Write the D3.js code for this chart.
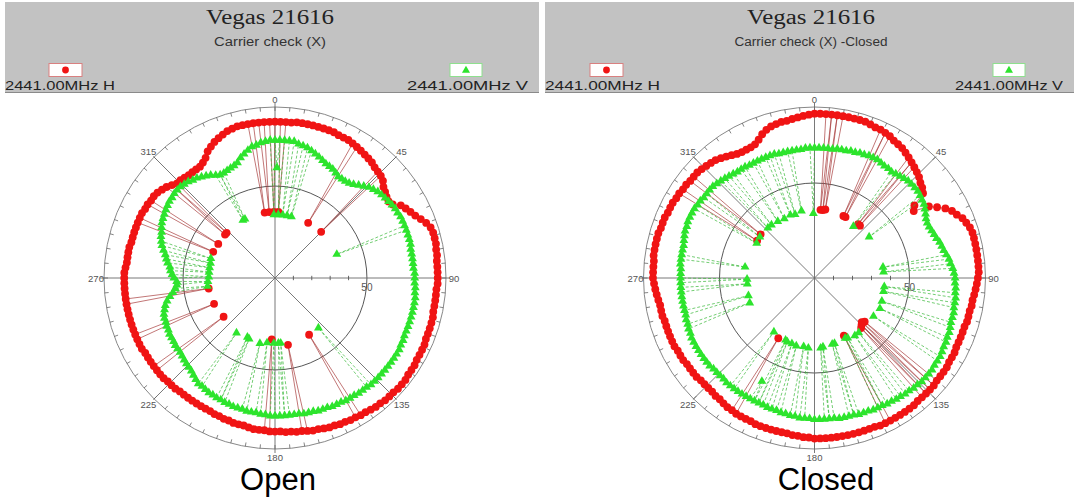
<!DOCTYPE html>
<html><head><meta charset="utf-8">
<script src="https://cdn.jsdelivr.net/npm/d3@7"></script>
<style>body{margin:0;background:#fff}svg{display:block}</style>
</head><body><svg id="c" width="1074" height="501"></svg>
<script>
// ---------- data ----------
const angles = d3.range(0, 360, 2); // sample angles (deg), one per ring value
const angleLabels = ["0","45","90","135","180","225","270","315"];
const angleLabelDeg = [0,45,90,135,180,225,270,315];
const ringValue = 50;
const axisTicks = [10,20,30,40];
const titles = ["Vegas 21616","Vegas 21616"];
const subtitles = ["Carrier check (X)","Carrier check (X) -Closed"];
const seriesNames = ["2441.00MHz H","2441.00MHz V"];
const captions = ["Open","Closed"];

// Open, horizontal (red)
const redOpen = [85,85,85,85,85.5,85.5,85.5,85.5,85.5,85.5,85.5,85.5,85,85,85,84.5,84,83.5,83,82.5,
82,81,80.5,80,79,77,76,75,74.5,75.5,79,80.5,82,83.5,85.5,87.5,89,89.5,89.5,89.5,
89,89,88.5,88.5,88.5,88.5,88.5,88,88,88,88,88,88.5,88.5,88.5,88.5,88.5,89,89,89,
89,89.5,89.5,89.5,90,90,90,89.5,89.5,89.5,89,89,88.5,88,88,87.5,87.5,87,87,86.5,
86.5,86,85.5,85.5,85,84.5,84.5,84,84,83.5,83.5,83.5,83,83,83,82.5,82,82,82,81.5,
81.5,81,81,80.5,80.5,80.5,80.5,80.5,80.5,80.5,80.5,81,81,81,81.5,81.5,81.5,81.5,81.5,81.5,
81.5,82,82,82,82,82,82,82,82,82,82,82,82,82,82,82,82,81.5,81,81,
81,81,80.5,80.5,80.5,80.5,80.5,80.5,80.5,80,80,79.5,79.5,79,78,77,75.5,74,74,73.5,
73,73,73,73,74,75.5,78,79.5,81,82,83,84,84.5,85,85,85,85,85,85,85];
const redOpenDips = [[3,36],[351,36],[355,36],[359,36],[31,35],[45,35.5],[149,36],[169,37],[183,33.5],
[233,35],[247,36],[261,36.5],[293,36.5],[301,36],[311,36],[313,36]];

// Open, vertical (green)
const greenOpen = [75,75,75,75,75,74,73.5,73,72,71,70,69,68,67.5,67,66,65,65,65,65.5,
66.5,68,69.5,71,72,73,73.5,74,74.5,75,75.5,75.5,76,76,76,76,76,76,76,75.5,
75.5,75.5,75.5,75.5,76,76,76,76.5,76.5,77,77,77,77,77,77,77,77,77,77.5,77.5,
78,78,78,78,78,78,78,78,78,78,77.5,77.5,77.5,77,77,77,76.5,76.5,76.5,76,
76,76,75.5,75.5,75.5,75,75,75,75,75,75,75,74.5,74.5,74,74,74,73.5,73.5,73.5,
73,73,72.5,72.5,72,72,71.5,71,71,70,69,68,67.5,67,66.5,66,65.5,65.5,65.5,65,
65,65,64.5,64.5,64,64,63.5,62.5,61.5,60,58,56,54.5,53.5,53.5,55,56,57,57.5,59,
60,61,62.5,64,65,66,66.5,67.5,68.5,69,69.5,70,70.5,71,71,71.5,71.5,71.5,71,70.5,
69.5,69,68,67,66,64.5,63.5,63.5,64,64.5,65,66,68,69.5,71,72.5,73,74,74.5,75];
const greenOpenDips = [[1,60],[3,34.5],[7,34.5],[11,34.5],[15,34.5],[359,34.5],[69,36],[139,36],
[175,35.5],[177,35.5],[181,35.5],[187,35.5],[193,36.5],[203,36],[205,35.5],[215,36.5],
[263,37],[267,36.5],[271,36],[275,36],[279,36],[283,36],[287,36.5],[331,36],[333,36]];

// Closed, horizontal (red)
const redClosed = [86.5,86.5,86.5,86.5,86.5,86.5,86.5,86.5,86.5,86.5,86,85.5,85.5,85,84.5,83.5,83,82.5,81.5,80.5,
79.5,78.5,77.5,76.5,75,74,72.5,65,63,71,74.5,78,80.5,82,84,85,86,86.5,86.5,86.5,
86.5,86.5,86.5,86.5,86.5,86,85.5,85,84.5,84,84,83.5,83.5,83.5,83,83,83,83,83,83.5,
83.5,83.5,84,84,84,84,84.5,84.5,84.5,84.5,84.5,85,85,85,85,85,85,85,85,84.5,
84.5,84.5,84.5,84.5,84.5,84.5,84.5,84.5,84.5,84.5,84.5,84,84,83.5,83.5,83,83,83,83,83,
83,83,82.5,82.5,82.5,82.5,82,82,81.5,81,81,80.5,80.5,80.5,80.5,81,81,81,81,81.5,
81.5,81.5,82,82,82,82,82,82,82.5,82.5,82.5,83,83.5,84,84.5,85,85,85,85,85.5,
85.5,85.5,85.5,85.5,85,85,85,84.5,84.5,84.5,84,84,83.5,83.5,83,83,83,82.5,82,81.5,
81,80,79,78,77,76.5,76.5,76.5,77,78.5,80.5,82,83,83.5,84,84,84.5,85,85.5,86];
const redClosedDips = [[5,36],[7,36],[9,36.5],[25,36],[27,36],[39,36.5],[41,36.5],[131,35],[133,34],
[135,35],[137,36],[153,34],[211,37],[303,36],[309,36.5]];

// Closed, vertical (green)
const greenClosed = [68.5,68.5,68.5,68.5,68.5,69,69,69,69.5,69.5,70,70,70.5,70.5,70.5,70,69.5,69.5,69,69.5,
70,70.5,71,71,71,71,70.5,70,69.5,68.5,67.5,66.5,66,66,66.5,67,67.5,68.5,69,69.5,
70.5,71.5,72,73,73.5,74,74,74.5,74.5,75,75,75,75.5,75.5,75.5,76,76.5,76.5,77,77,
77.5,78,78,78,78.5,78.5,78.5,78.5,78,78,77.5,77.5,77,77,76.5,76.5,76,76,76,75.5,
75.5,75.5,75,75,75,75,74.5,74.5,74.5,74.5,74.5,74,74,74,73.5,73.5,73,73,72.5,72.5,
72.5,72,72,72,72,72,72,72,72,72,72,71.5,71.5,71.5,71.5,72,72,72,72,72,
72,72,72,71.5,71.5,71,71,70.5,70.5,70.5,70.5,70.5,70.5,70.5,70.5,70.5,70.5,70.5,71,71,
71,71,71,71.5,72,72.5,72.5,73,73,73,73,72.5,72.5,72,72,72,72,71.5,71,70.5,
70,69.5,69,69,69,68.5,68.5,68.5,68.5,68.5,68.5,68.5,68,68,68,68,68,68,68.5,68.5];
const greenClosedDips = [[37,34],[53,36],[81,36.5],[85,36.5],[97,37],[101,37],[109,37.5],[115,38],[123,37],
[141,37],[145,37],[151,36],[153,35.5],[163,36],[165,36],[173,36.5],[175,37],[185,37],[189,36.5],
[195,37],[199,36.5],[203,36.5],[205,36],[207,61],[217,35.5],[249,36.5],[255,36],[265,35.5],
[269,35.5],[279,37],[301,35.5],[307,36],[317,36],[321,36],[327,35.5],[333,35],[339,35.5],
[343,35],[349,36],[359,34]];

// ---------- layout ----------
const RED = "#f01414", GREEN = "#2de42d";
const panels = [
  {cx:275, cy:278, R:171, rMax:93, gx0:5, gx1:539, titleX:270, titleW:128, subW:112,
   hX:5, hW:110, vX1:528, vW:121, redBoxX:49, greenBoxX:450, capX:278,
   red:redOpen, redD:redOpenDips, green:greenOpen, greenD:greenOpenDips},
  {cx:814.5, cy:278, R:171, rMax:90, gx0:545, gx1:1074, titleX:811, titleW:128, subW:153,
   hX:545, hW:115, vX1:1063, vW:108, redBoxX:590, greenBoxX:993, capX:826,
   red:redClosed, redD:redClosedDips, green:greenClosed, greenD:greenClosedDips}
];

const svg = d3.select("#c");
const rad = d => d * Math.PI / 180;

function merge(ring, dips) {
  return angles.map((a, i) => ({a, v: ring[i]}))
    .concat(dips.map(([a, v]) => ({a, v})))
    .sort((p, q) => p.a - q.a);
}

panels.forEach((p, k) => {
  // header
  const h = svg.append("g");
  h.append("rect").attr("x", p.gx0).attr("y", 2).attr("width", p.gx1 - p.gx0).attr("height", 90.5)
    .attr("fill", "#c2c2c2");
  h.append("line").attr("x1", p.gx0).attr("x2", p.gx1).attr("y1", 92.5).attr("y2", 92.5)
    .attr("stroke", "#8a8a8a").attr("stroke-width", 1);
  h.append("text").attr("x", p.titleX).attr("y", 24).attr("text-anchor", "middle")
    .attr("font-family", "Liberation Serif, Times New Roman, serif").attr("font-size", 20)
    .attr("fill", "#222").attr("textLength", p.titleW).attr("lengthAdjust", "spacingAndGlyphs")
    .text(titles[k]);
  h.append("text").attr("x", p.titleX).attr("y", 46).attr("text-anchor", "middle")
    .attr("font-family", "Liberation Sans, Arial, sans-serif").attr("font-size", 12)
    .attr("fill", "#333").attr("textLength", p.subW).attr("lengthAdjust", "spacingAndGlyphs")
    .text(subtitles[k]);
  // legend
  h.append("rect").attr("x", p.redBoxX).attr("y", 63.5).attr("width", 33).attr("height", 13)
    .attr("fill", "#fff").attr("stroke", "#d98080");
  h.append("circle").attr("cx", p.redBoxX + 16.5).attr("cy", 70).attr("r", 3.4).attr("fill", RED);
  h.append("rect").attr("x", p.greenBoxX).attr("y", 63.5).attr("width", 32).attr("height", 13)
    .attr("fill", "#fff").attr("stroke", "#8ee08e");
  h.append("path").attr("d", d3.symbol(d3.symbolTriangle, 28)())
    .attr("transform", `translate(${p.greenBoxX + 16},70.5)`).attr("fill", GREEN);
  h.append("text").attr("x", p.hX).attr("y", 89.5).attr("font-family", "Liberation Sans, Arial, sans-serif")
    .attr("font-size", 13).attr("fill", "#222").attr("textLength", p.hW).attr("lengthAdjust", "spacingAndGlyphs")
    .text(seriesNames[0]);
  h.append("text").attr("x", p.vX1 - p.vW).attr("y", 89.5).attr("font-family", "Liberation Sans, Arial, sans-serif")
    .attr("font-size", 13).attr("fill", "#222").attr("textLength", p.vW).attr("lengthAdjust", "spacingAndGlyphs")
    .text(seriesNames[1]);

  // polar grid
  const r = d3.scaleLinear().domain([0, p.rMax]).range([0, p.R]);
  const g = svg.append("g").attr("transform", `translate(${p.cx},${p.cy})`);
  g.append("circle").attr("r", p.R).attr("fill", "none").attr("stroke", "#7a7a7a").attr("stroke-width", 0.9);
  g.append("circle").attr("r", r(ringValue)).attr("fill", "none").attr("stroke", "#444").attr("stroke-width", 0.9);
  // outer ticks every 5 deg
  g.selectAll("line.ot").data(d3.range(0, 360, 5)).join("line").attr("class", "ot")
    .attr("x1", d => (p.R) * Math.sin(rad(d))).attr("y1", d => -(p.R) * Math.cos(rad(d)))
    .attr("x2", d => (p.R - 4) * Math.sin(rad(d))).attr("y2", d => -(p.R - 4) * Math.cos(rad(d)))
    .attr("stroke", "#666").attr("stroke-width", 0.8);
  // spokes
  g.selectAll("line.sp").data([0, 90, 180, 270]).join("line").attr("class", "sp")
    .attr("x1", 0).attr("y1", 0)
    .attr("x2", d => (p.R + 4) * Math.sin(rad(d))).attr("y2", d => -(p.R + 4) * Math.cos(rad(d)))
    .attr("stroke", "#6a6a6a").attr("stroke-width", 0.9);
  g.selectAll("line.dg").data([45, 135, 225, 315]).join("line").attr("class", "dg")
    .attr("x1", 0).attr("y1", 0)
    .attr("x2", d => (p.R + 1) * Math.sin(rad(d))).attr("y2", d => -(p.R + 1) * Math.cos(rad(d)))
    .attr("stroke", "#6a6a6a").attr("stroke-width", 0.9);
  // radial axis ticks
  g.selectAll("line.rt").data(axisTicks).join("line").attr("class", "rt")
    .attr("x1", d => r(d)).attr("x2", d => r(d)).attr("y1", -2.2).attr("y2", 2.2)
    .attr("stroke", "#555").attr("stroke-width", 0.9);
  g.append("text").attr("x", r(ringValue)).attr("y", 13).attr("text-anchor", "middle")
    .attr("font-family", "Liberation Sans, Arial, sans-serif").attr("font-size", 10).attr("fill", "#555")
    .text(String(ringValue));
  g.selectAll("text.al").data(angleLabelDeg).join("text").attr("class", "al")
    .attr("x", d => 179 * Math.sin(rad(d))).attr("y", d => -179 * Math.cos(rad(d)))
    .attr("text-anchor", "middle").attr("dominant-baseline", "central")
    .attr("font-family", "Liberation Sans, Arial, sans-serif").attr("font-size", 9.5).attr("fill", "#555")
    .text((d, i) => angleLabels[i]);

  const line = d3.lineRadial().angle(d => rad(d.a)).radius(d => r(d.v)).curve(d3.curveLinearClosed);

  // red series
  const redPts = merge(p.red, p.redD);
  g.append("path").attr("d", line(redPts)).attr("fill", "none")
    .attr("stroke", "#a83c3c").attr("stroke-width", 0.7);
  g.selectAll("circle.rm").data(redPts).join("circle").attr("class", "rm")
    .attr("cx", d => r(d.v) * Math.sin(rad(d.a))).attr("cy", d => -r(d.v) * Math.cos(rad(d.a)))
    .attr("r", 3.9).attr("fill", RED);

  // green series
  const greenPts = merge(p.green, p.greenD);
  g.append("path").attr("d", line(greenPts)).attr("fill", "none")
    .attr("stroke", "#38b838").attr("stroke-width", 0.7).attr("stroke-dasharray", "3,2");
  const tri = d3.symbol(d3.symbolTriangle, 34)();
  g.selectAll("path.gm").data(greenPts).join("path").attr("class", "gm")
    .attr("d", tri)
    .attr("transform", d => `translate(${r(d.v) * Math.sin(rad(d.a))},${-r(d.v) * Math.cos(rad(d.a))})`)
    .attr("fill", GREEN);

  // caption
  svg.append("text").attr("x", p.capX).attr("y", 490).attr("text-anchor", "middle")
    .attr("font-family", "Liberation Sans, Arial, sans-serif").attr("font-size", 31).attr("fill", "#000")
    .text(captions[k]);
});
</script></body></html>
